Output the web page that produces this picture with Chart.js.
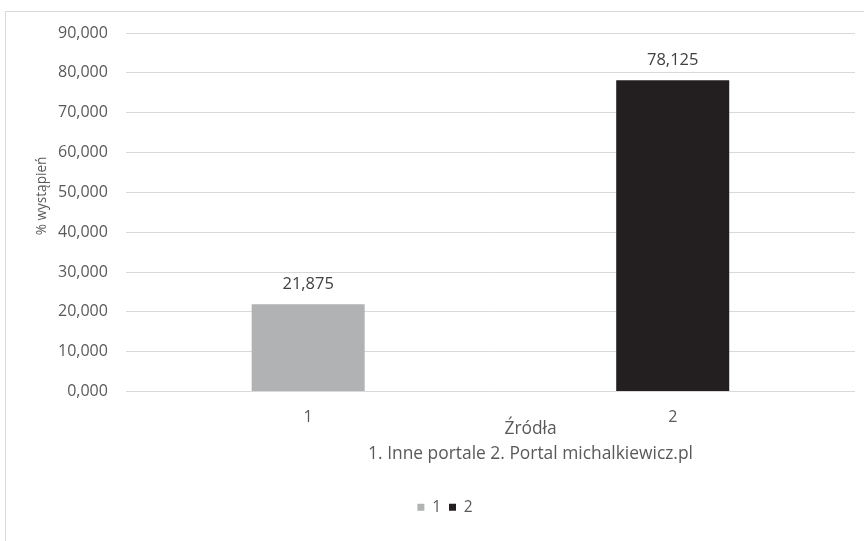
<!DOCTYPE html>
<html lang="pl">
<head>
<meta charset="utf-8">
<title>Źródła</title>
<script src="https://cdn.jsdelivr.net/npm/chart.js@4"></script>
<style>
  html, body { margin: 0; padding: 0; background: #fff; overflow: hidden; }
  #frame {
    position: absolute; left: 5px; top: 11px;
    width: 900px; height: 560px;
    border-left: 1px solid #d9d9d9; border-top: 1px solid #d9d9d9;
  }
  #box { position: absolute; left: 0; top: 0; width: 858px; height: 530px; }
</style>
</head>
<body>
<div id="frame"><div id="box"><canvas id="chart"></canvas></div></div>
<script>
// dane
const categories = ['1', '2'];
const seriesNames = ['1', '2'];
const values = [21.875, 78.125];
const barColors = ['#b1b2b4', '#231f20'];
const yTicks = [0, 10, 20, 30, 40, 50, 60, 70, 80, 90];
const axisTitleY = '% wystąpień';
const axisTitleX = 'Źródła';
const captionX = '1. Inne portale 2. Portal michalkiewicz.pl';

const FONT = '"Open Sans", sans-serif';
const TXT = '#595959';
const fmt = v => v.toFixed(3).replace('.', ',');

// każda kategoria jako osobna seria (legenda 1 / 2)
const datasets = seriesNames.map((name, i) => ({
    label: name,
    data: values.map((v, j) => (j === i ? v : null)),
    backgroundColor: barColors[i],
    borderWidth: 0,
    categoryPercentage: 1,
    barPercentage: 0.31,
    skipNull: true
}));

// etykiety wartości nad słupkami
const valueLabels = {
    id: 'valueLabels',
    afterDatasetsDraw(chart) {
        const ctx = chart.ctx;
        ctx.save();
        ctx.font = '16.5px ' + FONT;
        ctx.fillStyle = '#404040';
        ctx.textAlign = 'center';
        ctx.textBaseline = 'middle';
        chart.data.datasets.forEach((ds, i) => {
            chart.getDatasetMeta(i).data.forEach((bar, j) => {
                if (ds.data[j] == null) return;
                ctx.fillText(fmt(ds.data[j]), bar.x, bar.y - 20);
            });
        });
        ctx.restore();
    }
};

// tytuły osi: pionowy po lewej, dwie linie pod osią X
const axisTitles = {
    id: 'axisTitles',
    afterDraw(chart) {
        const a = chart.chartArea;
        const ctx = chart.ctx;
        ctx.save();
        ctx.fillStyle = TXT;
        ctx.textAlign = 'center';
        ctx.textBaseline = 'middle';

        ctx.font = '13.6px ' + FONT;
        ctx.translate(36, a.top + 163);
        ctx.rotate(-Math.PI / 2);
        ctx.fillText(axisTitleY, 0, 0);
        ctx.setTransform(1, 0, 0, 1, 0, 0);

        const cx = a.left + a.width * 0.555;
        ctx.font = '17.4px ' + FONT;
        ctx.fillText(axisTitleX, cx, a.bottom + 38);
        ctx.fillText(captionX, cx, a.bottom + 63);
        ctx.restore();
    }
};

const ctx = document.getElementById('chart').getContext('2d');
new Chart(ctx, {
    type: 'bar',
    data: { labels: categories, datasets: datasets },
    options: {
        responsive: true,
        maintainAspectRatio: false,
        animation: false,
        layout: { padding: { top: 21, left: 29, right: 9, bottom: 17 } },
        plugins: {
            legend: {
                position: 'bottom',
                labels: {
                    boxWidth: 7, boxHeight: 7, padding: 8,
                    color: TXT, font: { family: FONT, size: 15.5 }
                }
            },
            tooltip: { enabled: false }
        },
        scales: {
            x: {
                grid: { display: false, drawTicks: false },
                border: { display: false },
                ticks: { color: TXT, padding: 16, font: { family: FONT, size: 16 } },
                afterFit(scale) { scale.height = 100; }
            },
            y: {
                min: yTicks[0],
                max: yTicks[yTicks.length - 1],
                afterBuildTicks(scale) { scale.ticks = yTicks.map(v => ({ value: v })); },
                // miejsce na tytuł osi rysowany we wtyczce
                afterFit(scale) { scale.width += 20; },
                grid: { color: '#d9d9d9', drawTicks: true, tickLength: 15, tickColor: 'rgba(0,0,0,0)' },
                border: { display: false },
                ticks: {
                    color: TXT, padding: 3,
                    font: { family: FONT, size: 16 },
                    callback: v => fmt(v)
                }
            }
        }
    },
    plugins: [valueLabels, axisTitles]
});
</script>
</body>
</html>
